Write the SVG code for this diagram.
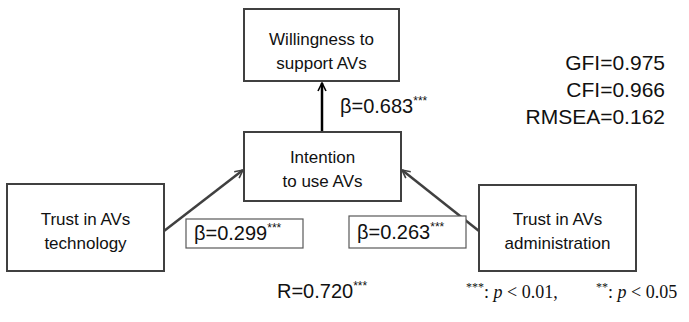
<svg xmlns="http://www.w3.org/2000/svg" width="689" height="322" viewBox="0 0 689 322">
<defs>
<style>
.box{fill:#fff;stroke:#404040;stroke-width:2}
.lbl{fill:#fff;stroke:#595959;stroke-width:1.2}
.t{font-family:"Liberation Sans",Arial,sans-serif;font-size:17px;fill:#111;text-anchor:middle}
.n{font-family:"Liberation Sans",Arial,sans-serif;font-size:20px;fill:#111}
.sup{font-size:12px}
.fit{font-family:"Liberation Sans",Arial,sans-serif;font-size:21px;fill:#111;text-anchor:end}
.fn{font-family:"Liberation Serif","Times New Roman",serif;font-size:18px;fill:#111}
.it{font-style:italic}
.c{fill:none;stroke-width:2.5}
</style>
<marker id="ab" viewBox="0 0 10 10" refX="9" refY="5" markerWidth="4" markerHeight="4" orient="auto" markerUnits="strokeWidth">
<path d="M1,1 L9,5 L1,9" fill="none" stroke="#000" stroke-width="1.6"/>
</marker>
<marker id="ag" viewBox="0 0 10 10" refX="9" refY="5" markerWidth="4" markerHeight="4" orient="auto" markerUnits="strokeWidth">
<path d="M1,1 L9,5 L1,9" fill="none" stroke="#404040" stroke-width="1.6"/>
</marker>
</defs>
<rect width="689" height="322" fill="#fff"/>
<g id="connectors">
<line class="c" x1="322" y1="132" x2="322" y2="83" stroke="#000" marker-end="url(#ab)"/>
<line class="c" x1="164" y1="231" x2="243" y2="170" stroke="#404040" marker-end="url(#ag)"/>
<line class="c" x1="479" y1="231" x2="402" y2="170" stroke="#404040" marker-end="url(#ag)"/>
</g>
<g id="willingness">
<rect class="box" x="244" y="9" width="155" height="72"/>
<text class="t" x="321.5" y="45">Willingness to</text>
<text class="t" x="321.5" y="69">support AVs</text>
</g>
<g id="intention">
<rect class="box" x="244" y="132" width="157" height="69"/>
<text class="t" x="322.5" y="163">Intention</text>
<text class="t" x="322.5" y="187">to use AVs</text>
</g>
<g id="trust-tech">
<rect class="box" x="7" y="184" width="157" height="87"/>
<text class="t" x="85.5" y="225">Trust in AVs</text>
<text class="t" x="85.5" y="249">technology</text>
</g>
<g id="trust-admin">
<rect class="box" x="479" y="185" width="157" height="86"/>
<text class="t" x="557.5" y="225">Trust in AVs</text>
<text class="t" x="557.5" y="249">administration</text>
</g>
<g id="beta-683">
<text class="n" x="340" y="113">β=0.683<tspan class="sup" dy="-8">***</tspan></text>
</g>
<g id="beta-299">
<rect class="lbl" x="186" y="219" width="117" height="29"/>
<text class="n" x="194" y="240">β=0.299<tspan class="sup" dy="-8">***</tspan></text>
</g>
<g id="beta-263">
<rect class="lbl" x="349" y="216" width="117" height="32"/>
<text class="n" x="357" y="239">β=0.263<tspan class="sup" dy="-8">***</tspan></text>
</g>
<g id="fit">
<text class="fit" x="665" y="70">GFI=0.975</text>
<text class="fit" x="665" y="97">CFI=0.966</text>
<text class="fit" x="665" y="124">RMSEA=0.162</text>
</g>
<g id="r">
<text class="n" x="277" y="298">R=0.720<tspan class="sup" dy="-8">***</tspan></text>
</g>
<g id="footnote">
<text class="fn" y="298"><tspan x="466" class="sup" dy="-7">***</tspan><tspan dy="7">: </tspan><tspan class="it">p</tspan> &lt; 0.01,</text>
<text class="fn" y="298"><tspan x="596" class="sup" dy="-7">**</tspan><tspan dy="7">: </tspan><tspan class="it">p</tspan> &lt; 0.05</text>
</g>
</svg>
